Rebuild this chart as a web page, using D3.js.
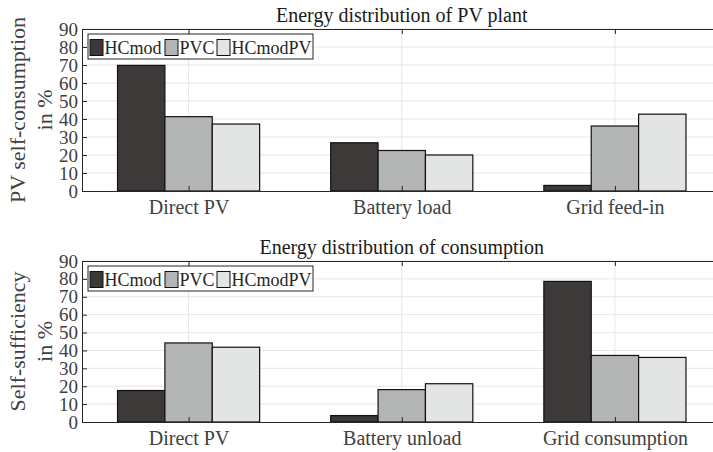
<!DOCTYPE html>
<html>
<head>
<meta charset="utf-8">
<title>Energy distribution</title>
<script src="https://cdn.jsdelivr.net/npm/d3@7"></script>
<style>
  body { margin: 0; background: #fff; }
  svg text { font-family: "Liberation Serif", "Times New Roman", serif; }
</style>
</head>
<body>
<svg id="chart" width="713" height="452"></svg>
<script>
// data
var series = ["HCmod", "PVC", "HCmodPV"];
var colors = ["#3d3939", "#b3b4b4", "#e3e4e4"];

var topCats = ["Direct PV", "Battery load", "Grid feed-in"];
var topHCmod = [69.8, 26.8, 3.1];
var topPVC = [41.3, 22.5, 36.1];
var topHCmodPV = [37.2, 20.0, 42.7];

var botCats = ["Direct PV", "Battery unload", "Grid consumption"];
var botHCmod = [17.6, 3.6, 78.6];
var botPVC = [44.2, 18.1, 37.2];
var botHCmodPV = [41.8, 21.4, 36.1];

var yTicks = [0, 10, 20, 30, 40, 50, 60, 70, 80, 90];

var svg = d3.select("#chart");

function panel(cfg) {
  var x = d3.scaleLinear().domain([0.5, 3.5]).range([82, 721.5]);
  var y = d3.scaleLinear().domain([0, 90]).range([cfg.bottom, cfg.top]);
  var g = svg.append("g");
  var step = x(2) - x(1);
  var bw = step * 2 / 3 / 3;

  // grid
  g.selectAll(".hg").data(yTicks.slice(1)).enter().append("line")
    .attr("x1", x(0.5)).attr("x2", x(3.5))
    .attr("y1", d => y(d)).attr("y2", d => y(d))
    .attr("stroke", "#e6e6e6").attr("stroke-width", 1);
  g.selectAll(".vg").data([1, 2, 3]).enter().append("line")
    .attr("x1", d => x(d)).attr("x2", d => x(d))
    .attr("y1", y(0)).attr("y2", y(90))
    .attr("stroke", "#e6e6e6").attr("stroke-width", 1);

  // bars, one series at a time
  cfg.series.forEach(function (vals, si) {
    g.selectAll(".s" + si).data(vals).enter().append("rect")
      .attr("x", (d, ci) => x(ci + 1) + (si - 1.5) * bw)
      .attr("y", d => y(d))
      .attr("width", bw)
      .attr("height", d => y(0) - y(d))
      .attr("fill", colors[si])
      .attr("stroke", "#111")
      .attr("stroke-width", 1.2);
  });

  // axes (inward ticks)
  var yAxis = d3.axisLeft(y).tickValues(yTicks).tickSizeInner(-5).tickSizeOuter(0).tickPadding(4);
  var ya = g.append("g").attr("transform", "translate(" + x(0.5) + ",0)").call(yAxis);
  var xAxis = d3.axisBottom(x).tickValues([1, 2, 3]).tickFormat((d, i) => cfg.cats[i])
    .tickSizeInner(-5).tickSizeOuter(0).tickPadding(9);
  var xa = g.append("g").attr("transform", "translate(0," + y(0) + ")").call(xAxis);
  var xt = g.append("g").attr("transform", "translate(0," + y(90) + ")")
    .call(d3.axisTop(x).tickValues([1, 2, 3]).tickFormat("").tickSizeInner(-5).tickSizeOuter(0));
  [ya, xa, xt].forEach(function (a) {
    a.select(".domain").attr("stroke", "#262626");
    a.selectAll(".tick line").attr("stroke", "#262626");
    a.selectAll("text").attr("fill", "#404040").style("font-size", "19px")
      .style("font-family", '"Liberation Serif", serif');
  });
  xa.selectAll("text").style("font-size", "20px").attr("dy", "0.71em");

  // title
  g.append("text").attr("x", x(2)).attr("y", cfg.top - 7)
    .attr("text-anchor", "middle").attr("fill", "#1a1a1a")
    .style("font-size", "20px").text(cfg.title);

  // y label
  var cy = (cfg.top + cfg.bottom) / 2;
  cfg.ylab.forEach(function (t, i) {
    g.append("text")
      .attr("transform", "translate(" + (25 + i * 27) + "," + cy + ") rotate(-90)")
      .attr("text-anchor", "middle").attr("fill", "#404040")
      .style("font-size", "22px").text(t);
  });

  // legend
  var lg = g.append("g").attr("transform", "translate(88," + (cfg.top + 5) + ")");
  lg.append("rect").attr("width", 225).attr("height", 25)
    .attr("fill", "#fff").attr("stroke", "#262626").attr("stroke-width", 1);
  var lx = [2, 77, 129];
  series.forEach(function (s, i) {
    lg.append("rect").attr("x", lx[i]).attr("y", 5.5).attr("width", 13).attr("height", 16)
      .attr("fill", colors[i]).attr("stroke", "#111").attr("stroke-width", 1);
    lg.append("text").attr("x", lx[i] + 14.5).attr("y", 19.5)
      .attr("fill", "#262626").style("font-size", "18px").text(s);
  });
}

panel({ top: 29, bottom: 191, cats: topCats, series: [topHCmod, topPVC, topHCmodPV],
  title: "Energy distribution of PV plant", ylab: ["PV self-consumption", "in %"] });
panel({ top: 261, bottom: 422, cats: botCats, series: [botHCmod, botPVC, botHCmodPV],
  title: "Energy distribution of consumption", ylab: ["Self-sufficiency", "in %"] });
</script>
</body>
</html>
